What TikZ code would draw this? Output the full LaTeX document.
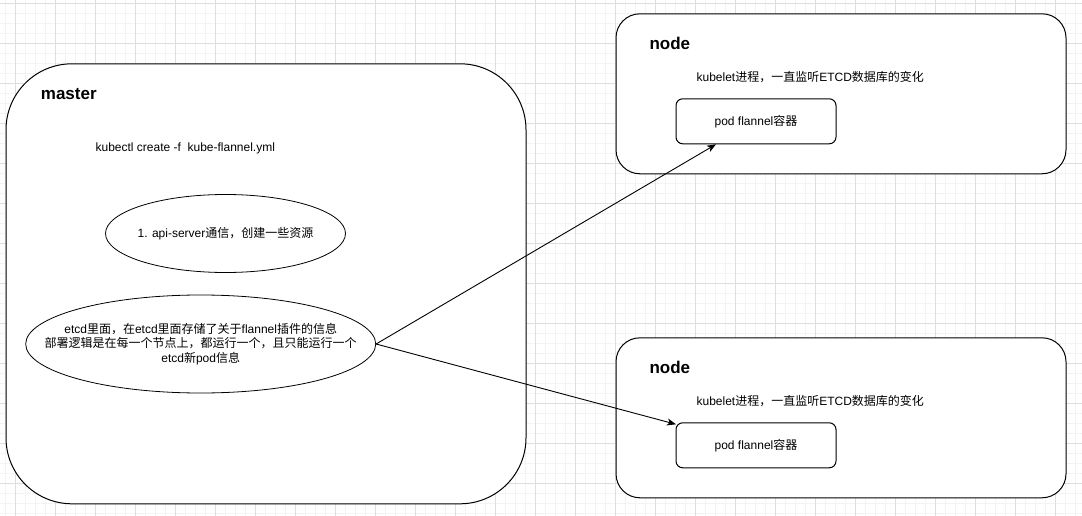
\documentclass[tikz,border=0pt]{standalone}
\usepackage{fontspec}
\setmainfont{Liberation Sans}
\newfontfamily\cjk{Noto Sans CJK SC}
\usetikzlibrary{arrows.meta,shapes.geometric}
\definecolor{gmajor}{RGB}{222,222,222}
\definecolor{gminor}{RGB}{243,243,243}
\begin{document}
\begin{tikzpicture}[x=1pt,y=-1pt,
  box/.style={draw=black, fill=white, line width=1pt, inner sep=0, anchor=north west},
  ell/.style={ellipse, draw=black, fill=white, line width=0.8pt, inner sep=0},
  txt/.style={font=\fontsize{12}{14.5}\selectfont, inner sep=0, align=center},
  ttl/.style={font=\fontsize{17}{20}\selectfont\bfseries, inner sep=0, anchor=west},
  arr/.style={-{Stealth[length=9pt,width=7pt,inset=2.5pt]}, line width=0.9pt}]
\useasboundingbox (0,0) rectangle (1082,516);
\fill[white] (0,0) rectangle (1082,516);
\foreach \x in {5,15,...,1075} \draw[gminor,line width=1pt] (\x,0) -- (\x,516);
\foreach \y in {3.3,13.3,...,513.3} \draw[gminor,line width=1pt] (0,\y) -- (1082,\y);
\foreach \x in {15,55,...,1055} \draw[gmajor,line width=1pt] (\x,0) -- (\x,516);
\foreach \y in {3.3,43.3,...,483.3} \draw[gmajor,line width=1pt] (0,\y) -- (1082,\y);

% master
\node[box, rounded corners=66pt, minimum width=520pt, minimum height=440pt] (master) at (5.5,63.3) {};
\node[ttl] (mtitle) at (40.7,94) {master};
\node[txt] (cmd) at (185.3,148.5) {kubectl create -f\ \ kube-flannel.yml};
\node[ell, minimum width=240pt, minimum height=78pt] (e1) at (225.5,233.5) {};
\node[txt] (e1t) at (e1.center) {1. api-server{\cjk 通信，创建一些资源}};
\node[ell, minimum width=350pt, minimum height=98pt] (e2) at (200.7,344) {};
\node[txt] (e2t) at (e2.center) {etcd{\cjk 里面，在}etcd{\cjk 里面存储了关于}flannel{\cjk 插件的信息}\\
{\cjk 部署逻辑是在每一个节点上，都运行一个，且只能运行一个}\\
etcd{\cjk 新}pod{\cjk 信息}};

% node 1
\node[box, rounded corners=24pt, minimum width=450pt, minimum height=160pt] (n1) at (615.5,13.3) {};
\node[ttl] (n1title) at (649.3,43.5) {node};
\node[txt] (n1t) at (810.3,76.7) {kubelet{\cjk 进程，一直监听}ETCD{\cjk 数据库的变化}};
\node[box, rounded corners=6.75pt, minimum width=160pt, minimum height=45pt] (pod1) at (675.5,98.3) {};
\node[txt] (pod1t) at (pod1.center) {pod flannel{\cjk 容器}};

% node 2
\node[box, rounded corners=24pt, minimum width=450pt, minimum height=160pt] (n2) at (615.5,337.3) {};
\node[ttl] (n2title) at (649.3,367.5) {node};
\node[txt] (n2t) at (810.3,400.7) {kubelet{\cjk 进程，一直监听}ETCD{\cjk 数据库的变化}};
\node[box, rounded corners=6.75pt, minimum width=160pt, minimum height=45pt] (pod2) at (675.5,422.3) {};
\node[txt] (pod2t) at (pod2.center) {pod flannel{\cjk 容器}};

% connectors
\draw[arr] (e2.east) -- ([xshift=40.5pt]pod1.south west);
\draw[arr] (e2.east) -- ([xshift=0.5pt,yshift=-2pt]pod2.north west);
\end{tikzpicture}
\end{document}
